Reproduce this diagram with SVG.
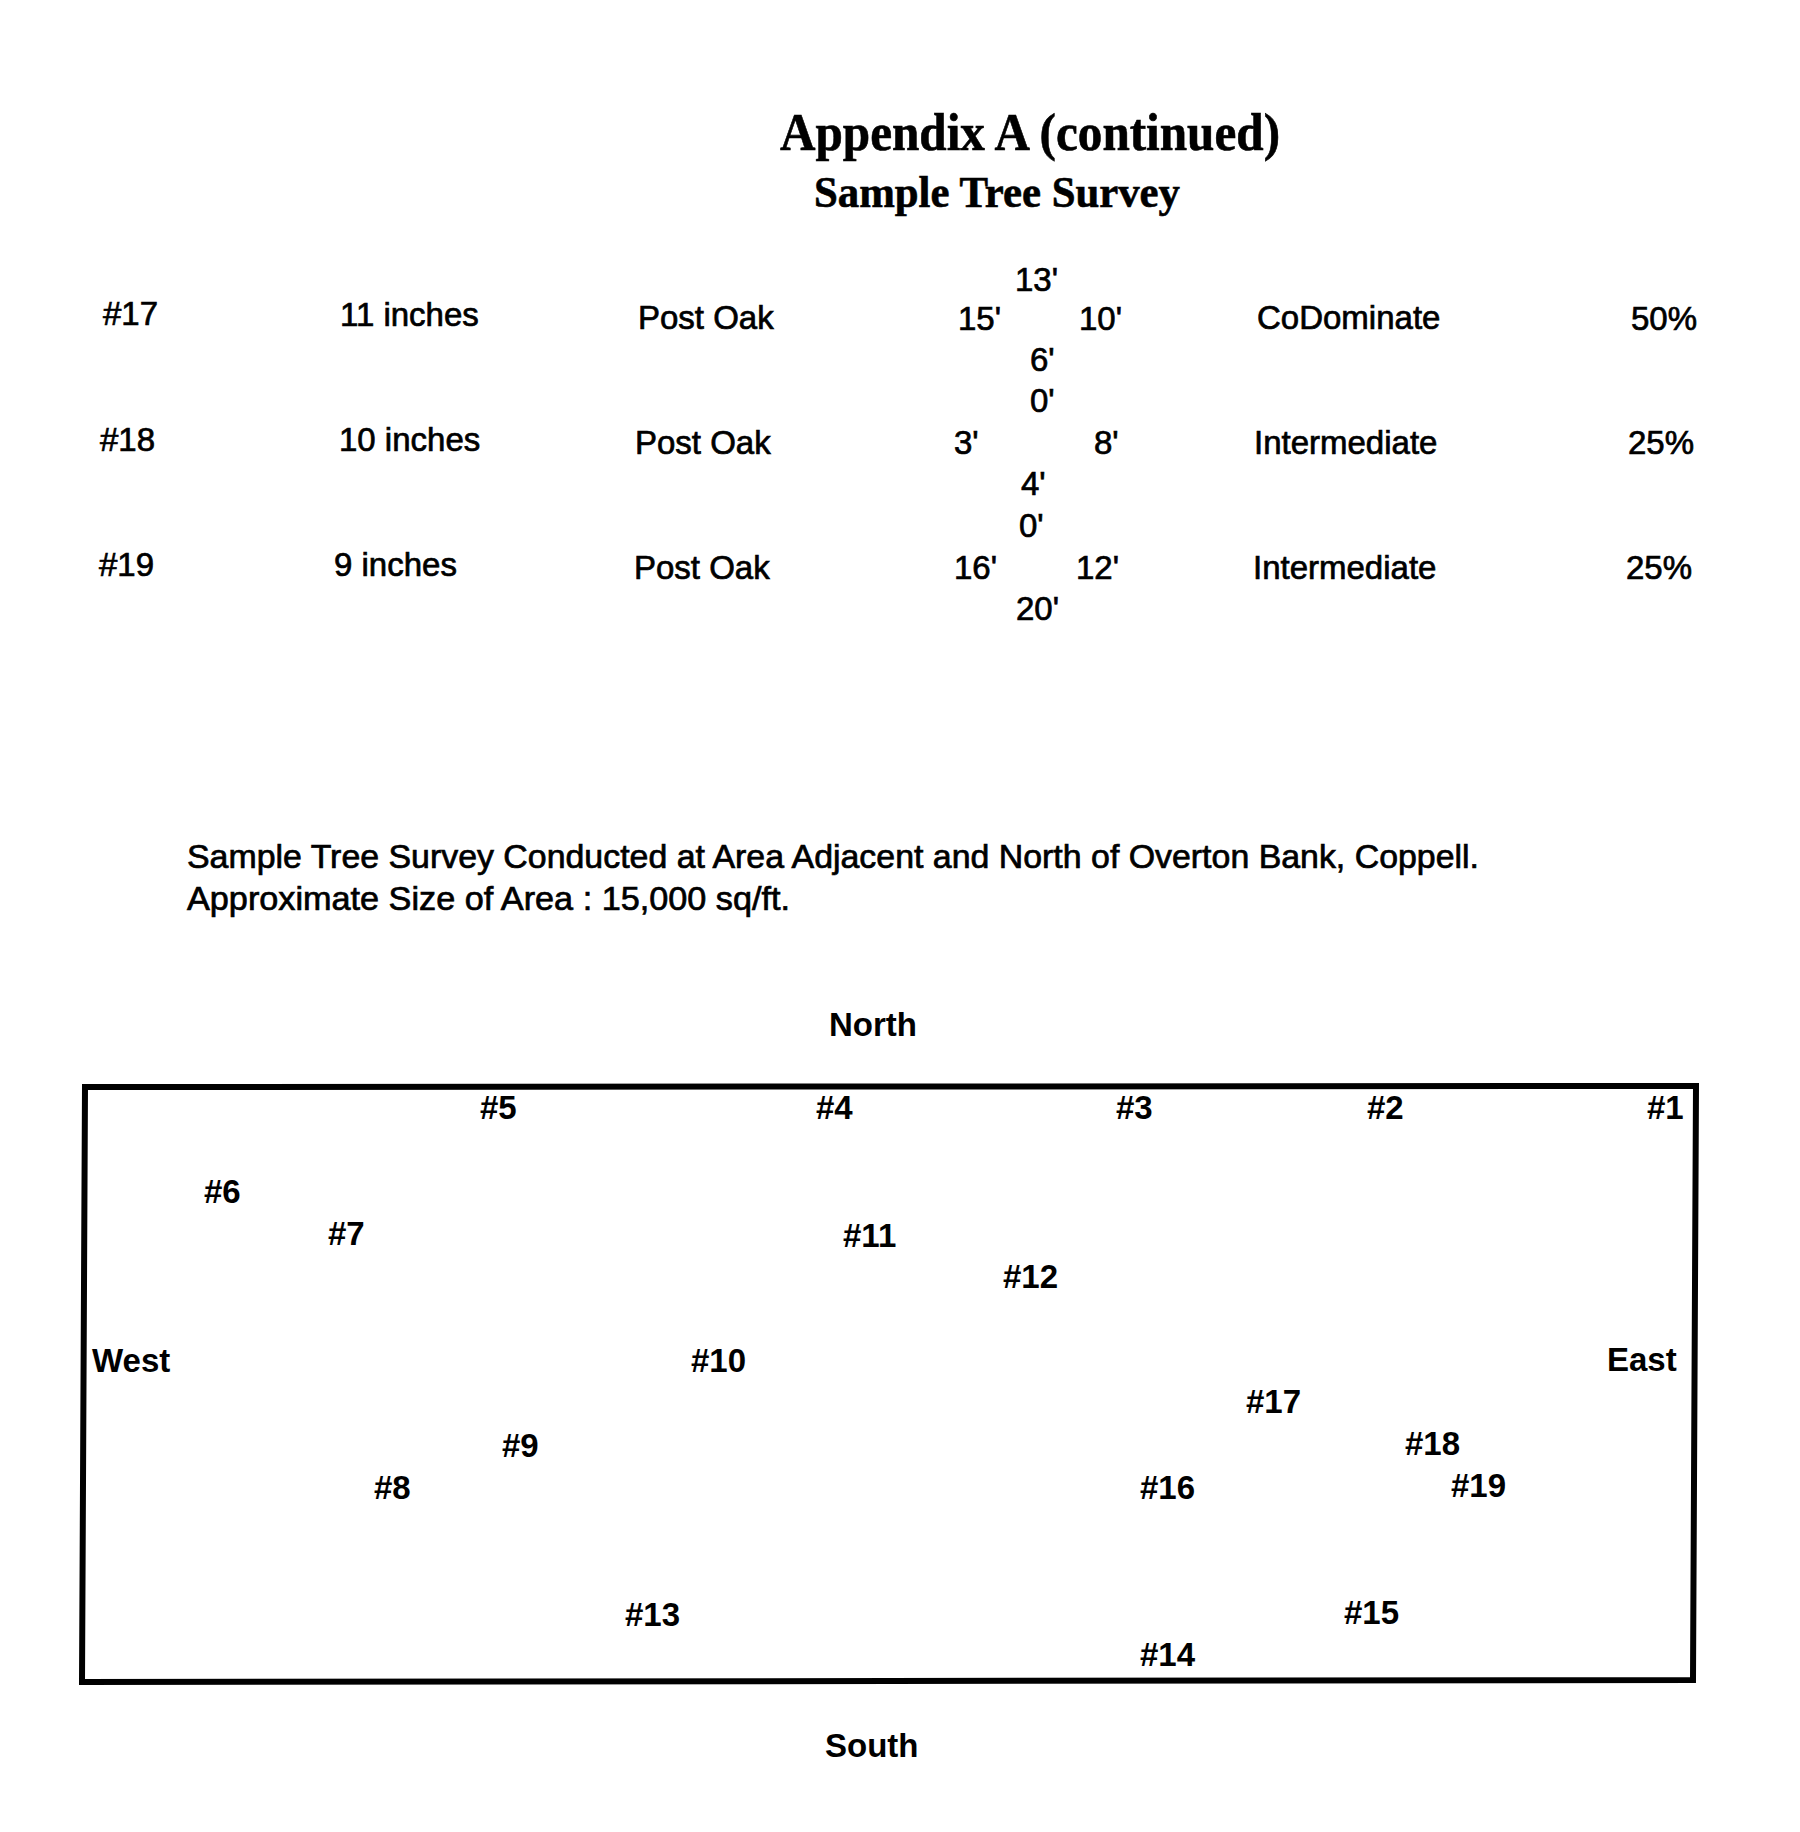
<svg xmlns="http://www.w3.org/2000/svg" width="1800" height="1832" viewBox="0 0 1800 1832">
<style>
.serif{font-family:"Liberation Serif","Times New Roman",serif;font-weight:bold;fill:#000;stroke:#000;stroke-width:0.6}
.t{font-family:"Liberation Sans",Arial,sans-serif;font-size:33px;fill:#000;stroke:#000;stroke-width:0.7}
.b{font-family:"Liberation Sans",Arial,sans-serif;font-size:33px;font-weight:bold;fill:#000}
.frame{fill:none;stroke:#000;stroke-width:6;stroke-linejoin:miter}
</style>
<rect width="1800" height="1832" fill="#fff"/>
<g id="header">
<text class="serif" x="780" y="150" font-size="52" textLength="500" lengthAdjust="spacingAndGlyphs">Appendix A (continued)</text>
<text class="serif" x="814" y="207" font-size="44" textLength="366" lengthAdjust="spacingAndGlyphs">Sample Tree Survey</text>
</g>
<g id="row17">
<text class="t" x="103" y="325">#17</text>
<text class="t" x="340" y="326">11 inches</text>
<text class="t" x="638" y="329">Post Oak</text>
<text class="t" x="1015" y="291">13'</text>
<text class="t" x="958" y="330">15'</text>
<text class="t" x="1079" y="330">10'</text>
<text class="t" x="1030" y="371">6'</text>
<text class="t" x="1257" y="329">CoDominate</text>
<text class="t" x="1631" y="330">50%</text>
</g>
<g id="row18">
<text class="t" x="100" y="451">#18</text>
<text class="t" x="339" y="451">10 inches</text>
<text class="t" x="635" y="454">Post Oak</text>
<text class="t" x="1030" y="412">0'</text>
<text class="t" x="954" y="454">3'</text>
<text class="t" x="1094" y="454">8'</text>
<text class="t" x="1021" y="495">4'</text>
<text class="t" x="1254" y="454">Intermediate</text>
<text class="t" x="1628" y="454">25%</text>
</g>
<g id="row19">
<text class="t" x="99" y="576">#19</text>
<text class="t" x="334" y="576">9 inches</text>
<text class="t" x="634" y="579">Post Oak</text>
<text class="t" x="1019" y="537">0'</text>
<text class="t" x="954" y="579">16'</text>
<text class="t" x="1076" y="579">12'</text>
<text class="t" x="1016" y="620">20'</text>
<text class="t" x="1253" y="579">Intermediate</text>
<text class="t" x="1626" y="579">25%</text>
</g>
<g id="description">
<text class="t" x="187" y="868" textLength="1292" lengthAdjust="spacingAndGlyphs">Sample Tree Survey Conducted at Area Adjacent and North of Overton Bank, Coppell.</text>
<text class="t" x="187" y="910" textLength="603" lengthAdjust="spacingAndGlyphs">Approximate Size of Area : 15,000 sq/ft.</text>
</g>
<g id="map">
<polygon class="frame" points="85,1087 1696,1086 1693,1680 82,1682"/>
<g id="north"><text class="b" x="829" y="1036">North</text></g>
<g id="south"><text class="b" x="825" y="1757">South</text></g>
<g id="west"><text class="b" x="92" y="1372">West</text></g>
<g id="east"><text class="b" x="1607" y="1371">East</text></g>
<g id="tree1"><text class="b" x="1647" y="1119">#1</text></g>
<g id="tree2"><text class="b" x="1367" y="1119">#2</text></g>
<g id="tree3"><text class="b" x="1116" y="1119">#3</text></g>
<g id="tree4"><text class="b" x="816" y="1119">#4</text></g>
<g id="tree5"><text class="b" x="480" y="1119">#5</text></g>
<g id="tree6"><text class="b" x="204" y="1203">#6</text></g>
<g id="tree7"><text class="b" x="328" y="1245">#7</text></g>
<g id="tree8"><text class="b" x="374" y="1499">#8</text></g>
<g id="tree9"><text class="b" x="502" y="1457">#9</text></g>
<g id="tree10"><text class="b" x="691" y="1372">#10</text></g>
<g id="tree11"><text class="b" x="843" y="1247">#11</text></g>
<g id="tree12"><text class="b" x="1003" y="1288">#12</text></g>
<g id="tree13"><text class="b" x="625" y="1626">#13</text></g>
<g id="tree14"><text class="b" x="1140" y="1666">#14</text></g>
<g id="tree15"><text class="b" x="1344" y="1624">#15</text></g>
<g id="tree16"><text class="b" x="1140" y="1499">#16</text></g>
<g id="tree17"><text class="b" x="1246" y="1413">#17</text></g>
<g id="tree18"><text class="b" x="1405" y="1455">#18</text></g>
<g id="tree19"><text class="b" x="1451" y="1497">#19</text></g>
</g>
</svg>
